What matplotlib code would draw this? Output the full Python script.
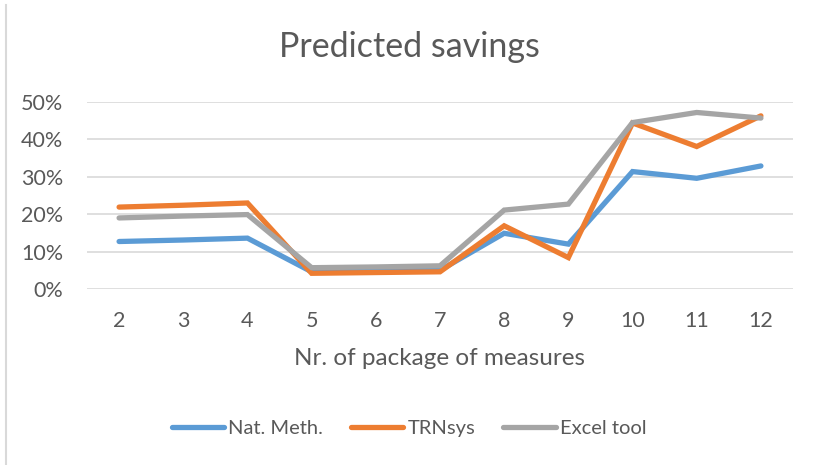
import matplotlib
matplotlib.use("Agg")
import matplotlib.pyplot as plt
from matplotlib.ticker import PercentFormatter
from matplotlib.lines import Line2D

plt.rcParams['font.family'] = ['Lato', 'DejaVu Sans']

# данные
packages = ["2", "3", "4", "5", "6", "7", "8", "9", "10", "11", "12"]
nat_meth = [12.7, 13.1, 13.6, 4.6, 4.8, 5.0, 14.9, 12.0, 31.4, 29.6, 32.9]
trnsys = [21.9, 22.4, 23.0, 4.2, 4.4, 4.6, 16.9, 8.4, 44.4, 38.1, 46.3]
excel_tool = [19.0, 19.5, 19.9, 5.7, 5.9, 6.2, 21.1, 22.7, 44.5, 47.2, 45.7]

series_names = ["Nat. Meth.", "TRNsys", "Excel tool"]
colors = ["#5B9BD5", "#ED7D31", "#A5A5A5"]
text_col = "#595959"

fig = plt.figure(figsize=(8.18, 4.65), dpi=100)
ax = fig.add_axes([87 / 818, 1 - 289 / 465, 706 / 818, 187 / 465])

x = range(len(packages))
for vals, col, name in zip([nat_meth, trnsys, excel_tool], colors, series_names):
    ax.plot(x, [v / 100 for v in vals], color=col, lw=3.8, label=name,
            solid_capstyle='round', solid_joinstyle='miter')

ax.set_xlim(-0.5, len(packages) - 0.5)
ax.set_ylim(0, 0.5)
ax.set_yticks([0, 0.1, 0.2, 0.3, 0.4, 0.5])
ax.yaxis.set_major_formatter(PercentFormatter(1.0, decimals=0))
ax.set_xticks(list(x))
ax.set_xticklabels(packages)
ax.tick_params(length=0, labelsize=15.5, labelcolor=text_col)
ax.tick_params(axis='x', pad=16)
ax.tick_params(axis='y', pad=17)
ax.grid(axis='y', color="#D9D9D9", lw=1.2)
ax.set_axisbelow(True)
for s in ax.spines.values():
    s.set_visible(False)

ax.set_xlabel("Nr. of package of measures", fontsize=17.5, color=text_col, labelpad=12)
fig.text(0.5, 1 - 47 / 465, "Predicted savings", ha='center', va='center',
         fontsize=24.5, color=text_col)

handles = [Line2D([0], [0], color=c, lw=3.8, solid_capstyle='round') for c in colors]
fig.legend(handles, series_names, loc='center', bbox_to_anchor=(0.5, 1 - 428 / 465),
           ncol=3, frameon=False, fontsize=14.5, labelcolor=text_col,
           handlelength=2.6, handletextpad=0.2, columnspacing=1.4)

# левая рамка
fig.add_artist(Line2D([6 / 818, 6 / 818], [0, 1 - 5 / 465], color="#D9D9D9", lw=1.5))

fig.savefig("out.png", dpi=100)
